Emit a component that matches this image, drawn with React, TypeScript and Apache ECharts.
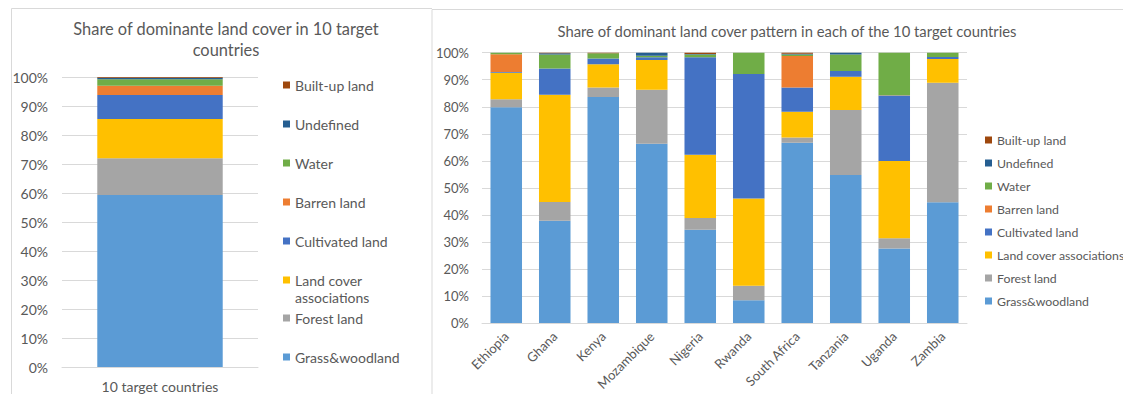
import React, { useEffect, useRef } from "react";
import * as echarts from "echarts";

const seriesNames = [
  "Grass&woodland",
  "Forest land",
  "Land cover associations",
  "Cultivated land",
  "Barren land",
  "Water",
  "Undefined",
  "Built-up land",
];
const colors = ["#5B9BD5", "#A5A5A5", "#FFC000", "#4472C4", "#ED7D31", "#70AD47", "#255E91", "#9E480E"];

const overallCategory = ["10 target countries"];
const overallShare = [59.3, 12.7, 13.5, 8.3, 3.2, 2.2, 0.5, 0.3];

const countries = ["Ethiopia", "Ghana", "Kenya", "Mozambique", "Nigeria", "Rwanda", "South Africa", "Tanzania", "Uganda", "Zambia"];
const grass = [79.8, 37.8, 83.6, 66.3, 34.5, 8.4, 66.7, 54.8, 27.6, 44.7];
const forest = [3.0, 7.0, 3.5, 20.0, 4.3, 5.4, 1.9, 24.0, 3.8, 44.2];
const landCoverAssoc = [9.8, 39.6, 8.6, 11.0, 23.4, 32.3, 9.6, 12.3, 28.5, 8.8];
const cultivated = [0.3, 9.8, 2.2, 1.0, 36.1, 46.0, 8.9, 2.1, 24.3, 0.7];
const barren = [6.5, 0, 0, 0, 0, 0, 11.7, 0, 0.1, 0];
const water = [0.6, 5.1, 1.9, 0.6, 1.0, 7.9, 0.5, 6.1, 15.7, 1.6];
const undefinedLand = [0, 0.5, 0, 1.1, 0.2, 0, 0.3, 0.7, 0, 0];
const builtUp = [0, 0.2, 0.2, 0, 0.5, 0, 0.4, 0, 0, 0];
const countrySeries = [grass, forest, landCoverAssoc, cultivated, barren, water, undefinedLand, builtUp];

const yTicks = { min: 0, max: 100, interval: 10 };

const FONT = "Lato";
const TEXT = "#595959";
const GRID = "#D9D9D9";

export default function App() {
  const ref = useRef<HTMLDivElement>(null);
  useEffect(() => {
    if (!ref.current) return;
    const chart = echarts.init(ref.current, null, { renderer: "svg" });

    const leftLegendY = [85, 124, 163, 202, 241, 280, 318, 357];
    const legendOrder = [...seriesNames].reverse();
    const leftLegends = legendOrder.map((name, i) => {
      const multi = name === "Land cover associations";
      return {
        data: [name],
        orient: "vertical",
        left: 283,
        top: leftLegendY[i] - 8,
        padding: 0,
        icon: "rect",
        itemWidth: 7,
        itemHeight: 7,
        selectedMode: false,
        formatter: multi ? () => "Land cover" : undefined,
        textStyle: { fontFamily: FONT, fontSize: 14, color: TEXT, lineHeight: 16 },
      };
    });

    const yAxisCommon = (idx: number, size: number, margin: number) => ({
      type: "value",
      gridIndex: idx,
      ...yTicks,
      axisLine: { show: false },
      axisTick: { show: false },
      splitLine: { lineStyle: { color: GRID, width: 1 } },
      axisLabel: { formatter: "{value}%", color: TEXT, fontFamily: FONT, fontSize: size, margin },
    });

    const option: any = {
      animation: false,
      backgroundColor: "#ffffff",
      color: colors,
      title: [
        {
          text: "Share of dominante land cover in 10 target\ncountries",
          left: 221,
          textAlign: "center",
          top: 13,
          textStyle: { fontFamily: FONT, fontSize: 16.4, fontWeight: "normal", color: TEXT, lineHeight: 21 },
        },
        {
          text: "Share of dominant land cover pattern in each of the 10 target countries",
          left: 782,
          textAlign: "center",
          top: 18,
          textStyle: { fontFamily: FONT, fontSize: 14.8, fontWeight: "normal", color: TEXT },
        },
      ],
      legend: [
        ...leftLegends,
        {
          data: legendOrder,
          orient: "vertical",
          left: 985,
          top: 132,
          padding: 0,
          icon: "rect",
          itemWidth: 7,
          itemHeight: 7,
          itemGap: 7,
          selectedMode: false,
          textStyle: { fontFamily: FONT, fontSize: 12.3, color: TEXT, lineHeight: 16 },
        },
      ],
      grid: [
        { left: 62, top: 77, width: 196, height: 290 },
        { left: 482, top: 52.7, width: 485, height: 270.3 },
      ],
      xAxis: [
        {
          type: "category",
          gridIndex: 0,
          data: overallCategory,
          axisLine: { lineStyle: { color: GRID } },
          axisTick: { show: false },
          axisLabel: { color: TEXT, fontFamily: FONT, fontSize: 14, margin: 12 },
        },
        {
          type: "category",
          gridIndex: 1,
          data: countries,
          axisLine: { lineStyle: { color: GRID } },
          axisTick: { show: false },
          axisLabel: { color: TEXT, fontFamily: FONT, fontSize: 13, rotate: 45, margin: 11 },
        },
      ],
      yAxis: [yAxisCommon(0, 14, 14), yAxisCommon(1, 13, 13)],
      series: [
        ...seriesNames.map((name, i) => ({
          name,
          type: "bar",
          stack: "overall",
          xAxisIndex: 0,
          yAxisIndex: 0,
          barCategoryGap: "36%",
          data: [overallShare[i]],
          itemStyle: { color: colors[i] },
        })),
        ...seriesNames.map((name, i) => ({
          name,
          type: "bar",
          stack: "countries",
          xAxisIndex: 1,
          yAxisIndex: 1,
          barCategoryGap: "35%",
          data: countrySeries[i],
          itemStyle: { color: colors[i] },
        })),
      ],
      graphic: [
        { type: "line", shape: { x1: 11.5, y1: 8.5, x2: 432, y2: 8.5 }, style: { stroke: GRID, lineWidth: 1 }, silent: true },
        { type: "line", shape: { x1: 11.5, y1: 8.5, x2: 11.5, y2: 394 }, style: { stroke: GRID, lineWidth: 1 }, silent: true },
        { type: "line", shape: { x1: 432, y1: 9.5, x2: 432, y2: 394 }, style: { stroke: GRID, lineWidth: 1 }, silent: true },
        { type: "line", shape: { x1: 432, y1: 9.5, x2: 1123, y2: 9.5 }, style: { stroke: GRID, lineWidth: 1 }, silent: true },
        {
          type: "text",
          left: 295,
          top: 290,
          silent: true,
          style: { text: "associations", fill: TEXT, font: `14px ${FONT}` },
        },
      ],
    };
    chart.setOption(option);
    return () => chart.dispose();
  }, []);
  return <div ref={ref} style={{ position: "fixed", left: 0, top: 0, width: 1123, height: 394, background: "#fff" }} />;
}
